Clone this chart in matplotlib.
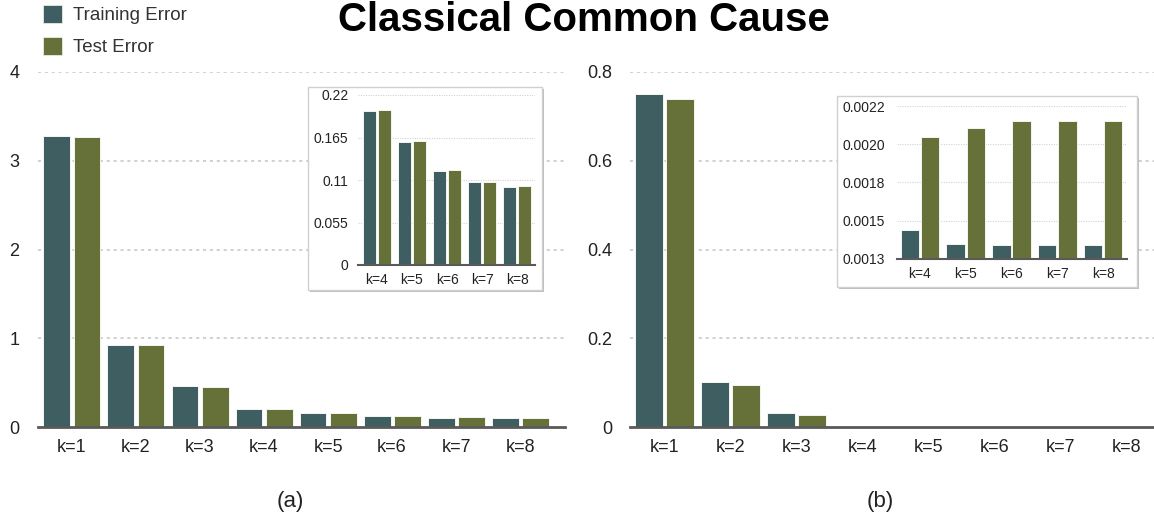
import numpy as np
import matplotlib
matplotlib.use("Agg")
import matplotlib.pyplot as plt
from matplotlib.patches import Rectangle

plt.rcParams["font.family"] = ["Liberation Sans", "DejaVu Sans"]

# error per k, panel (a) and panel (b)
k_labels = ["k=1", "k=2", "k=3", "k=4", "k=5", "k=6", "k=7", "k=8"]
train_a = [3.28, 0.92, 0.46, 0.199, 0.159, 0.122, 0.107, 0.101]
test_a = [3.27, 0.92, 0.45, 0.201, 0.160, 0.123, 0.108, 0.102]
train_b = [0.751, 0.101, 0.032, 0.00147, 0.00139, 0.00138, 0.00138, 0.00138]
test_b = [0.739, 0.094, 0.028, 0.00202, 0.00207, 0.00211, 0.00211, 0.00211]

main_ticks_a = [0, 1, 2, 3, 4]
main_ticks_b = [0, 0.2, 0.4, 0.6, 0.8]
inset_ticks_a = [0, 0.055, 0.11, 0.165, 0.22]
inset_ticks_b = list(np.linspace(0.0013, 0.0022, 5))

TRAIN_C = "#3f5e61"
TEST_C = "#66713a"
W, H = 1154, 523

fig = plt.figure(figsize=(W / 100, H / 100), dpi=100)


def px_box(x0, y0, x1, y1):
    # pixel rectangle (top-left origin) -> figure fraction [l, b, w, h]
    return [x0 / W, 1 - y1 / H, (x1 - x0) / W, (y1 - y0) / H]


def bars(ax, train, test, labels, width, gap, fs, pad, base_lw):
    x = np.arange(len(labels))
    off = (width + gap) / 2
    ax.bar(x - off, train, width, color=TRAIN_C, edgecolor="#f4f6f0", linewidth=0.7, zorder=3)
    ax.bar(x + off, test, width, color=TEST_C, edgecolor="#f4f6f0", linewidth=0.7, zorder=3)
    ax.set_xticks(x)
    ax.set_xticklabels(labels)
    for s in ["top", "right", "left"]:
        ax.spines[s].set_visible(False)
    ax.spines["bottom"].set_color("#5a5a5a")
    ax.spines["bottom"].set_linewidth(base_lw)
    ax.spines["bottom"].set_zorder(4)
    ax.tick_params(axis="both", length=0, labelsize=fs, colors="#222222")
    ax.tick_params(axis="x", pad=pad)
    ax.set_facecolor("none")


def grid(ax, ticks, color, lw, dash):
    for t in ticks[1:]:
        ax.axhline(t, color=color, lw=lw, dashes=dash, zorder=1)


# main panels
ax_a = fig.add_axes(px_box(38, 72, 565, 427))
bars(ax_a, train_a, test_a, k_labels, 0.42, 0.05, 13, 9, 2.0)
ax_a.set_ylim(0, 4)
ax_a.set_xlim(-0.53, 7.7)
ax_a.set_yticks(main_ticks_a)
ax_a.set_yticklabels([str(t) for t in main_ticks_a])
ax_a.tick_params(axis="y", pad=13.5)
grid(ax_a, main_ticks_a, "#c4c4c4", 1.1, (2, 2.5))

ax_b = fig.add_axes(px_box(630, 72, 1154, 427))
bars(ax_b, train_b, test_b, k_labels, 0.42, 0.05, 13, 9, 2.0)
ax_b.set_ylim(0, 0.8)
ax_b.set_xlim(-0.52, 7.42)
ax_b.set_yticks(main_ticks_b)
ax_b.set_yticklabels(["0", "0.2", "0.4", "0.6", "0.8"])
ax_b.tick_params(axis="y", pad=13)
grid(ax_b, main_ticks_b, "#c4c4c4", 1.1, (2, 2.5))


def inset_frame(x0, y0, x1, y1):
    shadow = Rectangle((0, 0), 1, 1, transform=fig.transFigure, zorder=1,
                       facecolor="#8a8a8a", edgecolor="none", alpha=0.55)
    l, b, w, h = px_box(x0 + 2, y0 + 2, x1 + 2, y1 + 2)
    shadow.set_bounds(l, b, w, h)
    fig.add_artist(shadow)
    box = Rectangle((0, 0), 1, 1, transform=fig.transFigure, zorder=1.1,
                    facecolor="white", edgecolor="#d0d0d0", linewidth=1.0)
    l, b, w, h = px_box(x0, y0, x1, y1)
    box.set_bounds(l, b, w, h)
    fig.add_artist(box)


# inset for k=4..8
inset_frame(308, 87, 542, 290)
in_a = fig.add_axes(px_box(358, 95, 535, 265), zorder=2)
bars(in_a, train_a[3:], test_a[3:], k_labels[3:], 0.38, 0.04, 10, 6, 1.5)
in_a.set_ylim(0, 0.22)
in_a.set_xlim(-0.54, 4.51)
in_a.set_yticks(inset_ticks_a)
in_a.set_yticklabels(["0", "0.055", "0.11", "0.165", "0.22"])
in_a.tick_params(axis="y", pad=7)
grid(in_a, inset_ticks_a, "#d2d2d2", 0.8, (1, 1.2))

inset_frame(837, 96, 1137, 287)
in_b = fig.add_axes(px_box(897, 106, 1127, 259), zorder=2)
bars(in_b, train_b[3:], test_b[3:], k_labels[3:], 0.40, 0.04, 10, 6, 1.5)
in_b.set_ylim(0.0013, 0.0022)
in_b.set_xlim(-0.5, 4.52)
in_b.set_yticks(inset_ticks_b)
in_b.set_yticklabels([f"{t:.4f}" for t in inset_ticks_b])
in_b.tick_params(axis="y", pad=8.5)
grid(in_b, inset_ticks_b, "#d2d2d2", 0.8, (1, 1.2))

# title, legend, subcaptions
fig.text(584 / W, 1 - 20 / H, "Classical Common Cause", ha="center", va="center",
         fontsize=29, fontweight="bold", color="black")

for i, (name, c) in enumerate([("Training Error", TRAIN_C), ("Test Error", TEST_C)]):
    yc = 14 + 32 * i
    sq = Rectangle((0, 0), 1, 1, transform=fig.transFigure, facecolor=c,
                   edgecolor="#e8ece0", linewidth=0.6)
    l, b, w, h = px_box(43, yc - 9, 62, yc + 9)
    sq.set_bounds(l, b, w, h)
    fig.add_artist(sq)
    fig.text(73 / W, 1 - (yc + 1) / H, name, ha="left", va="center", fontsize=13.5, color="#333333")

fig.text(290 / W, 1 - 502 / H, "(a)", ha="center", va="center", fontsize=16, color="#222222")
fig.text(880 / W, 1 - 502 / H, "(b)", ha="center", va="center", fontsize=16, color="#222222")

fig.savefig("out.png", dpi=100)
